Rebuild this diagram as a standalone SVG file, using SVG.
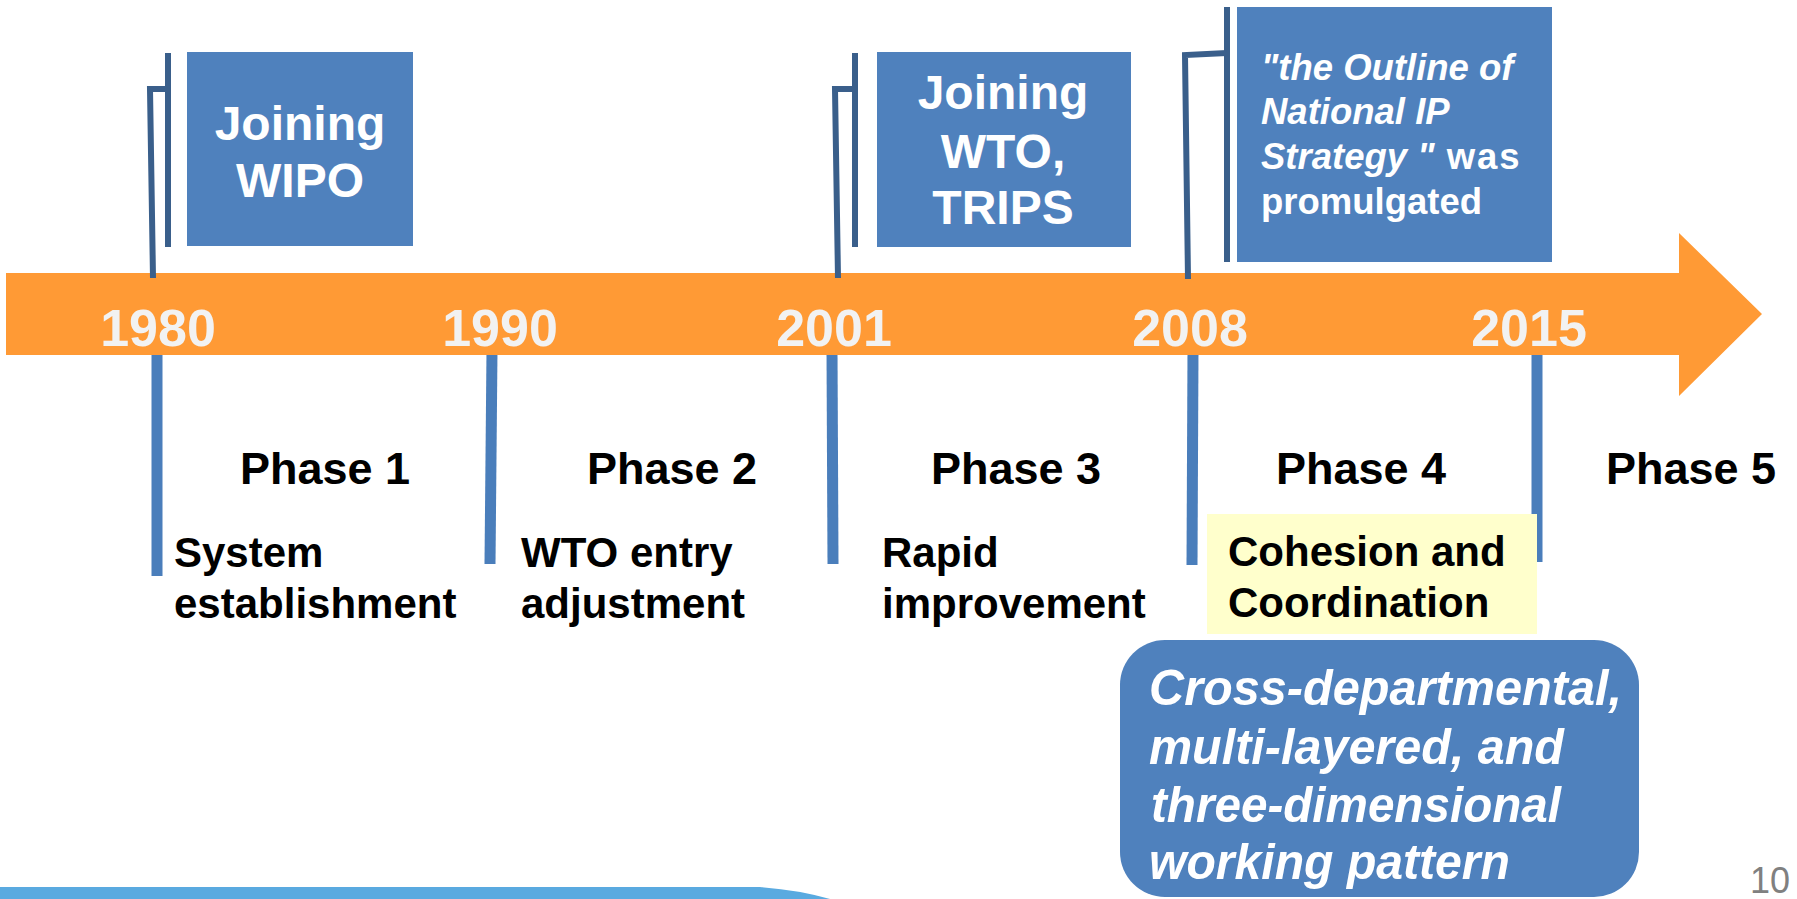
<svg xmlns="http://www.w3.org/2000/svg" width="1797" height="899" viewBox="0 0 1797 899">
<style>
.box{fill:#4F81BD}
.pole{fill:none;stroke:#3A5F8B;stroke-width:6;stroke-linejoin:miter}
.tick{fill:none;stroke:#4A7EBB;stroke-width:11}
.wt{font-family:"Liberation Sans",Arial,sans-serif;font-weight:bold;fill:#FFFFFF}
.yr{font-family:"Liberation Sans",Arial,sans-serif;font-weight:bold;fill:#F2F2F2;font-size:52px;text-anchor:middle}
.ph{font-family:"Liberation Sans",Arial,sans-serif;font-weight:bold;fill:#000000;font-size:45px;text-anchor:middle}
.ds{font-family:"Liberation Sans",Arial,sans-serif;font-weight:bold;fill:#000000;font-size:42px}
.it{font-style:italic}
</style>
<rect width="1797" height="899" fill="#FFFFFF"/>
<g id="bottom-bar"><path d="M0,887 L760,887 Q800,890 830,899 L0,899 Z" fill="#5AAAE0"/></g>
<g id="connectors">
<line class="tick" x1="157" y1="350" x2="157" y2="576"/>
<line class="tick" x1="492" y1="350" x2="490" y2="564"/>
<line class="tick" x1="832" y1="350" x2="833" y2="564"/>
<line class="tick" x1="1193" y1="350" x2="1192" y2="565"/>
<line class="tick" x1="1537" y1="350" x2="1537" y2="562"/>
</g>
<g id="timeline-arrow">
<polygon points="6,273 1679,273 1679,233 1762,314 1679,396 1679,355 6,355" fill="#FF9A35"/>
<text class="yr" x="158" y="346">1980</text>
<text class="yr" x="500" y="346">1990</text>
<text class="yr" x="834" y="346">2001</text>
<text class="yr" x="1190" y="346">2008</text>
<text class="yr" x="1529" y="346">2015</text>
</g>
<g id="poles">
<path class="pole" d="M168,53 L168,247"/>
<path class="pole" d="M168,89 L150,89 L153,278"/>
<path class="pole" d="M855,53 L855,247"/>
<path class="pole" d="M855,89 L835,89 L838,278"/>
<path class="pole" d="M1227,7 L1227,262"/>
<path class="pole" d="M1227,53 L1185,55 L1188,279"/>
</g>
<g id="wipo">
<rect class="box" x="187" y="52" width="226" height="194"/>
<text class="wt" font-size="48" text-anchor="middle"><tspan x="300" y="140">Joining</tspan><tspan x="300" y="197">WIPO</tspan></text>
</g>
<g id="wto">
<rect class="box" x="877" y="52" width="254" height="195"/>
<text class="wt" font-size="48" text-anchor="middle"><tspan x="1003" y="109">Joining</tspan><tspan x="1003" y="168">WTO,</tspan><tspan x="1003" y="224">TRIPS</tspan></text>
</g>
<g id="outline">
<rect class="box" x="1237" y="7" width="315" height="255"/>
<text class="wt" font-size="36.5"><tspan class="it" x="1261" y="80">"the Outline of</tspan><tspan class="it" x="1261" y="124">National IP</tspan><tspan class="it" x="1261" y="169">Strategy "</tspan><tspan letter-spacing="2"> was</tspan><tspan x="1261" y="214">promulgated</tspan></text>
</g>
<g id="phases">
<text class="ph" x="325" y="484">Phase 1</text>
<text class="ph" x="672" y="484">Phase 2</text>
<text class="ph" x="1016" y="484">Phase 3</text>
<text class="ph" x="1361" y="484">Phase 4</text>
<text class="ph" x="1691" y="484">Phase 5</text>
</g>
<g id="phase1-desc"><text class="ds"><tspan x="174" y="567">System</tspan><tspan x="174" y="618">establishment</tspan></text></g>
<g id="phase2-desc"><text class="ds"><tspan x="521" y="567">WTO entry</tspan><tspan x="521" y="618">adjustment</tspan></text></g>
<g id="phase3-desc"><text class="ds"><tspan x="882" y="567">Rapid</tspan><tspan x="882" y="618">improvement</tspan></text></g>
<g id="phase4-desc">
<rect x="1207" y="514" width="330" height="120" fill="#FFFFCC"/>
<text class="ds"><tspan x="1228" y="566">Cohesion and</tspan><tspan x="1228" y="617">Coordination</tspan></text>
</g>
<g id="pattern">
<rect class="box" x="1120" y="640" width="519" height="257" rx="45" ry="45"/>
<text class="wt it" font-size="50" lengthAdjust="spacingAndGlyphs" x="1149" y="705" textLength="473">Cross-departmental,</text>
<text class="wt it" font-size="50" lengthAdjust="spacingAndGlyphs" x="1149" y="764" textLength="415">multi-layered, and</text>
<text class="wt it" font-size="50" lengthAdjust="spacingAndGlyphs" x="1151" y="822" textLength="410">three-dimensional</text>
<text class="wt it" font-size="50" lengthAdjust="spacingAndGlyphs" x="1149" y="879" textLength="361">working pattern</text>
</g>
<g id="page-number"><text x="1790" y="893" font-family="Liberation Sans, Arial, sans-serif" font-size="36" fill="#808080" text-anchor="end">10</text></g>
</svg>
